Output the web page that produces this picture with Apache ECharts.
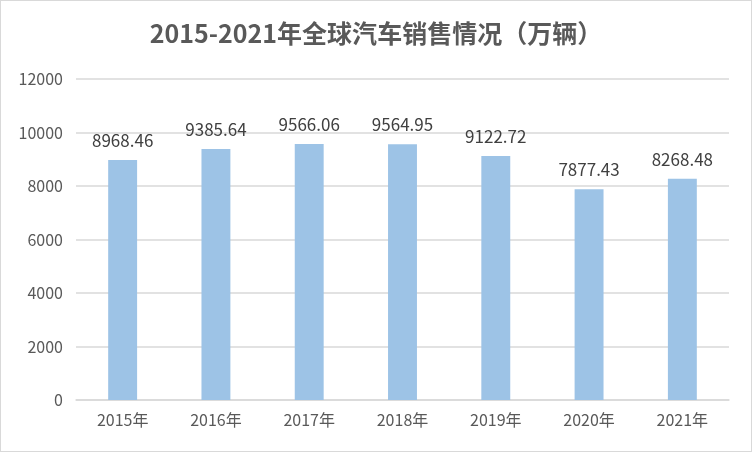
<!DOCTYPE html>
<html lang="zh">
<head>
    <meta charset="UTF-8">
    <title>全球汽车销售情况</title>
    <style>
        html, body { margin: 0; padding: 0; background: #fff; }
        #main { width: 750px; height: 450px; border: 1px solid #d9d9d9; }
    </style>
</head>
<body>
    <div id="main"></div>
    <script src="https://cdn.jsdelivr.net/npm/echarts@6/dist/echarts.min.js"></script>
    <script>
        var years = ['2015年', '2016年', '2017年', '2018年', '2019年', '2020年', '2021年'];
        var sales = [8968.46, 9385.64, 9566.06, 9564.95, 9122.72, 7877.43, 8268.48];

        var font = '"Noto Sans CJK SC", "Noto Sans", sans-serif';
        var chart = echarts.init(document.getElementById('main'));
        chart.setOption({
            animation: false,
            title: {
                text: '2015-2021年全球汽车销售情况（万辆）',
                left: 'center',
                top: 15,
                textStyle: { color: '#595959', fontSize: 25, fontWeight: 'bold', fontFamily: font }
            },
            grid: { left: 75, right: 22, top: 78, bottom: 51 },
            xAxis: {
                type: 'category',
                data: years,
                axisLine: { lineStyle: { color: '#d9d9d9', width: 1.5 } },
                axisTick: { show: false },
                axisLabel: { color: '#595959', fontSize: 16, margin: 12, fontFamily: font }
            },
            yAxis: {
                type: 'value',
                min: 0,
                max: 12000,
                interval: 2000,
                axisLine: { show: false },
                axisTick: { show: false },
                axisLabel: {
                    color: '#595959', fontSize: 16, margin: 13, fontFamily: font,
                    formatter: function (v) { return String(v); }
                },
                splitLine: { lineStyle: { color: '#d9d9d9', width: 1.5 } }
            },
            series: [{
                type: 'bar',
                data: sales,
                barWidth: '31%',
                itemStyle: { color: '#9dc3e6' },
                label: {
                    show: true,
                    position: 'top',
                    distance: 11,
                    color: '#404040',
                    fontSize: 17,
                    fontFamily: font
                }
            }]
        });
    </script>
</body>
</html>
